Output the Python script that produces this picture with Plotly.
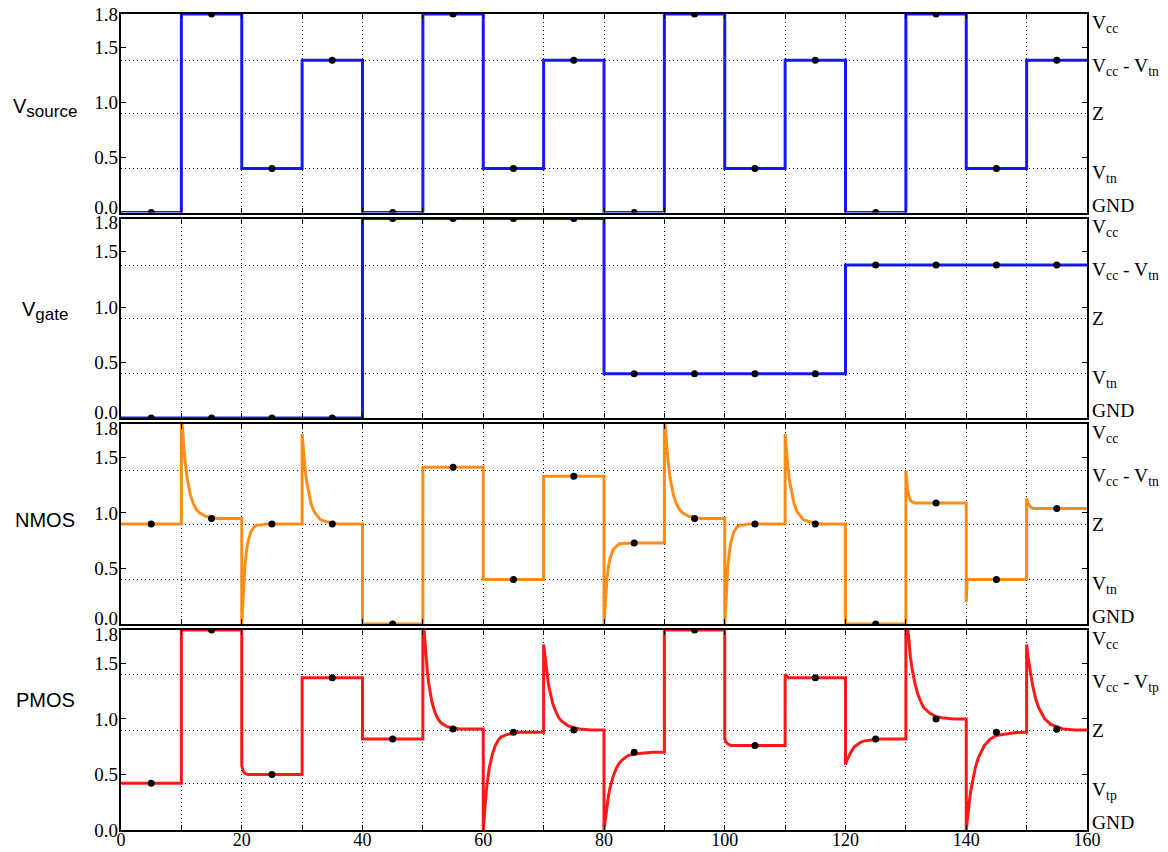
import plotly.graph_objects as go

# ---------------- data ----------------
seg_starts = [0, 10, 20, 30, 40, 50, 60, 70, 80, 90, 100, 110, 120, 130, 140, 150]
seg_centers = [5, 15, 25, 35, 45, 55, 65, 75, 85, 95, 105, 115, 125, 135, 145, 155]

source_levels = [0.0, 1.8, 0.4, 1.38, 0.0, 1.8, 0.4, 1.38,
                 0.0, 1.8, 0.4, 1.38, 0.0, 1.8, 0.4, 1.38]
gate_levels = [0.0, 0.0, 0.0, 0.0, 1.8, 1.8, 1.8, 1.8,
               0.4, 0.4, 0.4, 0.4, 1.38, 1.38, 1.38, 1.38]
nmos_levels = [0.9, 0.95, 0.9, 0.9, 0.0, 1.41, 0.4, 1.33,
               0.73, 0.95, 0.9, 0.9, 0.0, 1.09, 0.4, 1.04]
pmos_levels = [0.42, 1.8, 0.5, 1.37, 0.82, 0.91, 0.88, 0.9,
               0.7, 1.8, 0.76, 1.37, 0.82, 1.0, 0.88, 0.906]

# transient samples: offsets within a segment and values
t_off = [0, 0.25, 0.5, 0.75, 1, 1.5, 2, 2.5, 3, 4, 5, 6, 8, 10]

nmos_transients = {
    10: (t_off, [1.90, 1.69, 1.53, 1.40, 1.30, 1.16, 1.08, 1.03, 1.00, 0.97, 0.96, 0.95, 0.95, 0.95]),
    20: (t_off, [0.00, 0.31, 0.51, 0.64, 0.73, 0.83, 0.87, 0.89, 0.89, 0.90, 0.90, 0.90, 0.90, 0.90]),
    30: (t_off, [1.71, 1.53, 1.39, 1.28, 1.20, 1.08, 1.01, 0.97, 0.94, 0.92, 0.91, 0.90, 0.90, 0.90]),
    80: (t_off, [0.00, 0.25, 0.41, 0.52, 0.59, 0.67, 0.70, 0.72, 0.725, 0.73, 0.73, 0.73, 0.73, 0.73]),
    90: (t_off, [1.90, 1.69, 1.53, 1.40, 1.30, 1.16, 1.08, 1.03, 1.00, 0.97, 0.96, 0.95, 0.95, 0.95]),
    100: (t_off, [0.00, 0.31, 0.51, 0.64, 0.73, 0.83, 0.87, 0.89, 0.89, 0.90, 0.90, 0.90, 0.90, 0.90]),
    110: (t_off, [1.71, 1.53, 1.39, 1.28, 1.20, 1.08, 1.01, 0.97, 0.94, 0.92, 0.91, 0.90, 0.90, 0.90]),
    130: (t_off, [1.38, 1.22, 1.15, 1.11, 1.10, 1.09, 1.09, 1.09, 1.09, 1.09, 1.09, 1.09, 1.09, 1.09]),
    140: ([0, 0.15, 10], [0.20, 0.40, 0.40]),
    150: (t_off, [1.13, 1.08, 1.06, 1.05, 1.04, 1.04, 1.04, 1.04, 1.04, 1.04, 1.04, 1.04, 1.04, 1.04]),
}

pmos_transients = {
    20: ([0, 0.25, 0.5, 1, 10], [0.58, 0.53, 0.51, 0.50, 0.50]),
    50: (t_off, [2.00, 1.76, 1.57, 1.42, 1.31, 1.15, 1.06, 1.00, 0.965, 0.93, 0.92, 0.91, 0.91, 0.91]),
    60: (t_off, [0.00, 0.19, 0.35, 0.46, 0.56, 0.68, 0.76, 0.81, 0.84, 0.86, 0.87, 0.88, 0.88, 0.88]),
    70: (t_off, [1.67, 1.54, 1.42, 1.33, 1.26, 1.14, 1.07, 1.01, 0.98, 0.94, 0.92, 0.91, 0.90, 0.90]),
    80: (t_off, [0.00, 0.12, 0.22, 0.31, 0.38, 0.48, 0.55, 0.60, 0.63, 0.67, 0.685, 0.69, 0.70, 0.70]),
    100: ([0, 0.25, 0.5, 1, 10], [0.82, 0.79, 0.775, 0.76, 0.76]),
    110: ([0, 0.3, 0.6, 10], [1.40, 1.38, 1.37, 1.37]),
    120: (t_off, [0.59, 0.63, 0.66, 0.69, 0.71, 0.75, 0.77, 0.79, 0.80, 0.81, 0.815, 0.82, 0.82, 0.82]),
    130: (t_off, [2.00, 1.83, 1.68, 1.56, 1.46, 1.32, 1.22, 1.15, 1.10, 1.05, 1.02, 1.01, 1.00, 1.00]),
    140: (t_off, [0.00, 0.14, 0.25, 0.35, 0.43, 0.56, 0.65, 0.71, 0.76, 0.82, 0.85, 0.86, 0.876, 0.88]),
    150: (t_off, [1.67, 1.55, 1.45, 1.37, 1.30, 1.18, 1.10, 1.05, 1.00, 0.95, 0.93, 0.91, 0.90, 0.90]),
}

left_ticks = [0.0, 0.5, 1.0, 1.5, 1.8]
left_ticktext = ["0.0", "0.5", "1.0", "1.5", "1.8"]
x_ticks = [0, 10, 20, 30, 40, 50, 60, 70, 80, 90, 100, 110, 120, 130, 140, 150, 160]
x_ticktext = ["0", "", "20", "", "40", "", "60", "", "80", "", "100", "", "120", "", "140", "", "160"]

grid_n = [0.4, 0.9, 1.38, 1.8]
grid_p = [0.42, 0.9, 1.4, 1.8]
right_text_n = ["GND", "V<sub>tn</sub>", "Z", "V<sub>cc</sub> - V<sub>tn</sub>", "V<sub>cc</sub>"]
right_text_p = ["GND", "V<sub>tp</sub>", "Z", "V<sub>cc</sub> - V<sub>tp</sub>", "V<sub>cc</sub>"]
right_label_pos = [0.07, 0.37, 0.9, 1.34, 1.73]

row_labels = ["V<sub><span style='font-size:17px'>source</span></sub>",
              "V<sub><span style='font-size:17px'>gate</span></sub>",
              "NMOS", "PMOS"]
row_label_px = [108, 311, 520, 700]


def build(levels, transients):
    xs, ys = [], []
    for s, lvl in zip(seg_starts, levels):
        if s in transients:
            offs, vals = transients[s]
        else:
            offs, vals = [0, 10], [lvl, lvl]
        xs += [s + o for o in offs]
        ys += list(vals)
    return xs, ys


panels = [
    (source_levels, {}, "rgba(0,0,255,0.9)"),
    (gate_levels, {}, "rgba(0,0,255,0.9)"),
    (nmos_levels, nmos_transients, "rgba(255,130,0,0.9)"),
    (pmos_levels, pmos_transients, "rgba(255,0,0,0.9)"),
]

# pixel layout
W, H = 1168, 852
ML, MR, MT, MB = 121, 81, 14, 22
PH = H - MT - MB
panel_px = [(14, 212.5), (218.5, 418), (424, 624), (630, 830)]

fig = go.Figure()
layout = dict(
    width=W, height=H,
    margin=dict(l=ML, r=MR, t=MT, b=MB, pad=0, autoexpand=False),
    plot_bgcolor="white", paper_bgcolor="white",
    showlegend=False,
    font=dict(family="Liberation Serif", size=19, color="black"),
)

serif = dict(family="Liberation Serif", size=19, color="black")
serif_x = dict(family="Liberation Serif", size=18, color="black")
serif_r = dict(family="Liberation Serif", size=19.5, color="black")

for k, (levels, trans, color) in enumerate(panels, start=1):
    xs, ys = build(levels, trans)
    xa = "x" if k == 1 else f"x{k}"
    ya = "y" if k == 1 else f"y{k}"
    fig.add_trace(go.Scatter(x=xs, y=ys, mode="lines", xaxis=xa, yaxis=ya,
                             line=dict(color=color, width=3), hoverinfo="skip"))
    fig.add_trace(go.Scatter(x=seg_centers, y=levels, mode="markers", xaxis=xa, yaxis=ya,
                             marker=dict(color="black", size=7), hoverinfo="skip"))
    # placeholders so the overlay axes are drawn
    for extra in (k + 4, k + 8, k + 12):
        fig.add_trace(go.Scatter(x=[None], y=[None], mode="lines", xaxis=xa, yaxis=f"y{extra}",
                                 hoverinfo="skip"))

    top, bot = panel_px[k - 1]
    dom = [(H - MB - bot) / PH, (H - MB - top) / PH]

    layout[f"xaxis{'' if k == 1 else k}"] = dict(
        domain=[0, 1], anchor=ya, range=[0, 160],
        tickvals=x_ticks, ticktext=x_ticktext if k == 4 else [""] * len(x_ticks),
        showticklabels=(k == 4), ticks="inside", ticklen=5, tickcolor="black", tickwidth=1,
        showline=True, linecolor="black", linewidth=1.5, mirror="ticks",
        showgrid=True, gridcolor="black", gridwidth=1, griddash="1px,3px",
        zeroline=False, tickfont=serif_x, automargin=False, ticklabelstandoff=-7,
    )
    # main axis: tick marks only
    layout[f"yaxis{'' if k == 1 else k}"] = dict(
        domain=dom, anchor=xa, range=[0, 1.8],
        tickvals=left_ticks, showticklabels=False,
        ticks="inside", ticklen=5, tickcolor="black", tickwidth=1,
        showline=True, linecolor="black", linewidth=1.5, mirror="ticks",
        showgrid=False, zeroline=False, automargin=False,
    )
    # left tick labels (nudged apart where neighbouring panels meet)
    lab_pos = [0.0 if k == 4 else 0.05, 0.5, 1.0, 1.5, 1.8 if k == 1 else 1.765]
    layout[f"yaxis{k + 12}"] = dict(
        overlaying=ya, anchor=xa, side="left", range=[0, 1.8],
        tickvals=lab_pos, ticktext=left_ticktext, ticks="",
        showline=False, showgrid=False, zeroline=False, tickfont=serif,
        automargin=False, ticklabelstandoff=2,
    )
    # right-side labels
    layout[f"yaxis{k + 4}"] = dict(
        overlaying=ya, anchor=xa, side="right", range=[0, 1.8],
        tickvals=right_label_pos, ticktext=right_text_p if k == 4 else right_text_n,
        ticks="", showline=False, showgrid=False, zeroline=False, tickfont=serif_r,
        automargin=False, ticklabelstandoff=4,
    )
    # dotted horizontal grid at the reference levels
    layout[f"yaxis{k + 8}"] = dict(
        overlaying=ya, anchor=xa, side="right", range=[0, 1.8],
        tickvals=grid_p if k == 4 else grid_n, showticklabels=False, ticks="",
        showline=False, showgrid=True, gridcolor="black", gridwidth=1, griddash="1px,3px",
        zeroline=False, automargin=False,
    )

fig.update_layout(**layout)

for text, py in zip(row_labels, row_label_px):
    fig.add_annotation(text=text, xref="paper", yref="paper",
                       x=(45 - ML) / (W - ML - MR), y=(H - MB - py) / PH,
                       xanchor="center", yanchor="middle", showarrow=False,
                       font=dict(family="Liberation Sans", size=20, color="black"))

fig.write_html("out.html", config={"displayModeBar": False},
               post_script="document.body.style.margin='0';")
